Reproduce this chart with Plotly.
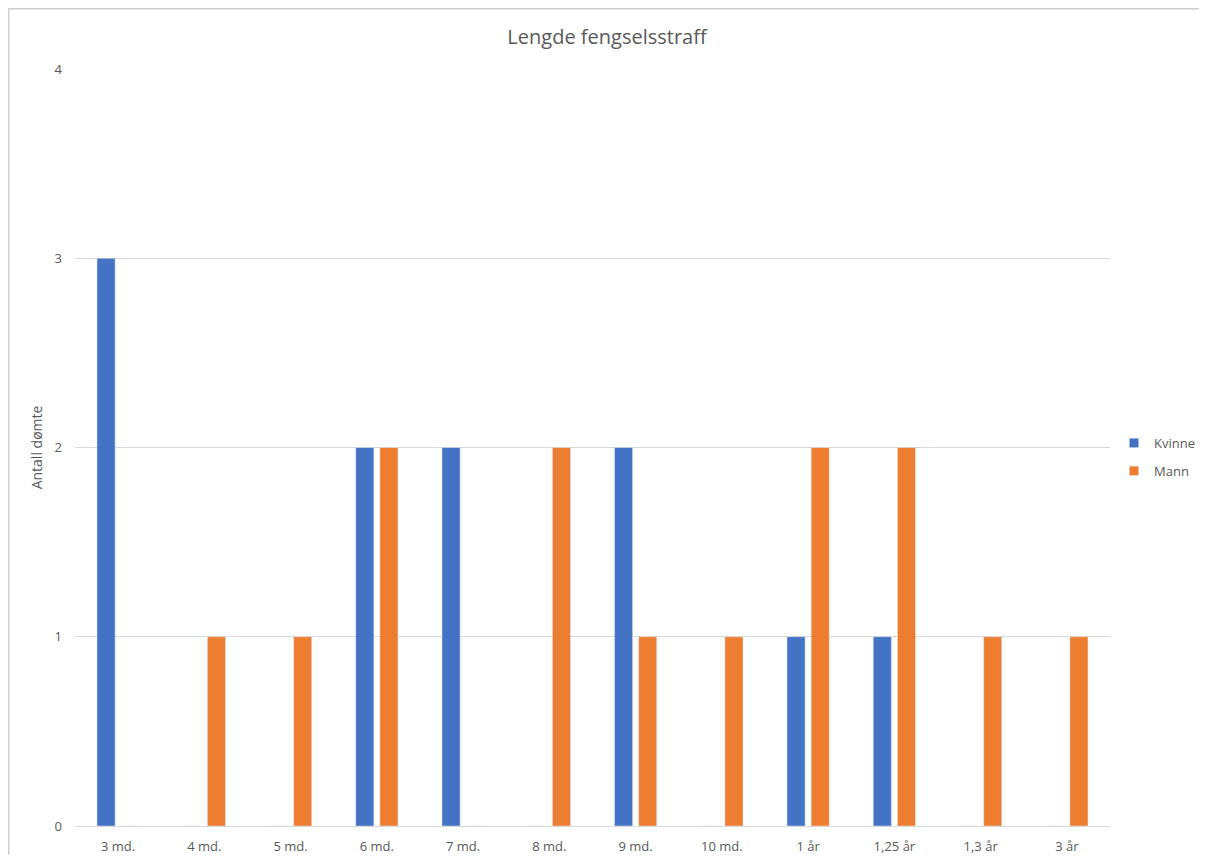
import plotly.graph_objects as go

categories = ["3 md.", "4 md.", "5 md.", "6 md.", "7 md.", "8 md.", "9 md.", "10 md.", "1 år", "1,25 år", "1,3 år", "3 år"]
kvinne = [3, 0, 0, 2, 2, 0, 2, 0, 1, 1, 0, 0]
mann = [0, 1, 1, 2, 0, 2, 1, 1, 2, 2, 1, 1]
y_ticks = [0, 1, 2, 3, 4]
series_names = ["Kvinne", "Mann"]
series_colors = ["#4472C4", "#ED7D31"]

font_family = "Open Sans, Liberation Sans, sans-serif"
gray = "#595959"

fig = go.Figure()
for name, vals, col in zip(series_names, [kvinne, mann], series_colors):
    fig.add_trace(go.Bar(x=categories, y=vals, name=name, marker_color=col,
                         showlegend=False))
# legend entries with small square swatches
for name, col in zip(series_names, series_colors):
    fig.add_trace(go.Scatter(x=[None], y=[None], mode="markers", name=name,
                             marker=dict(symbol="square", size=9, color=col),
                             legendgroup=name))

# page has an 8px body margin; figure sized to fit the 1207x863 window
W, H = 1191, 847
L, T = 67, 61
plot_right, plot_bottom = 1102, 818
R = W - plot_right
B = H - plot_bottom
pw = W - L - R
ph = H - T - B

def fx(px):
    return (px - L) / pw

def fy(py):
    return (plot_bottom - py) / ph

fig.update_layout(
    width=W, height=H,
    margin=dict(l=L, r=R, t=T, b=B, autoexpand=False),
    paper_bgcolor="white", plot_bgcolor="white",
    barmode="group", bargap=0.44, bargroupgap=0.25,
    font=dict(family=font_family, color=gray, size=13),
    title=dict(text="Lengde fengselsstraff", x=599 / W, xref="container", xanchor="center",
               y=1 - 29 / H, yref="container", yanchor="middle",
               font=dict(size=20, color=gray, family=font_family)),
    legend=dict(x=fx(1106), xanchor="left", y=fy(449), yanchor="middle",
                font=dict(size=13, color=gray), tracegroupgap=8,
                itemwidth=30, bgcolor="rgba(0,0,0,0)"),
    xaxis=dict(showgrid=False, showline=True, linecolor="#d9d9d9", linewidth=1,
               ticks="", ticklabelstandoff=8, tickfont=dict(size=13, color=gray)),
    yaxis=dict(range=[0, 4], tickvals=y_ticks, showgrid=True, gridcolor="#d9d9d9",
               zeroline=False, showline=False, ticks="", ticklabelstandoff=12,
               tickfont=dict(size=13, color=gray),
               title=dict(text="Antall dømte", font=dict(size=14, color=gray), standoff=8)),
    shapes=[
        dict(type="line", xref="paper", yref="paper",
             x0=fx(0), x1=fx(W), y0=fy(0.5), y1=fy(0.5),
             line=dict(color="#d0d0d0", width=2), layer="below"),
        dict(type="line", xref="paper", yref="paper",
             x0=fx(0.5), x1=fx(0.5), y0=fy(0), y1=fy(H),
             line=dict(color="#d0d0d0", width=2), layer="below"),
    ],
)

fig.write_html("out.html")
